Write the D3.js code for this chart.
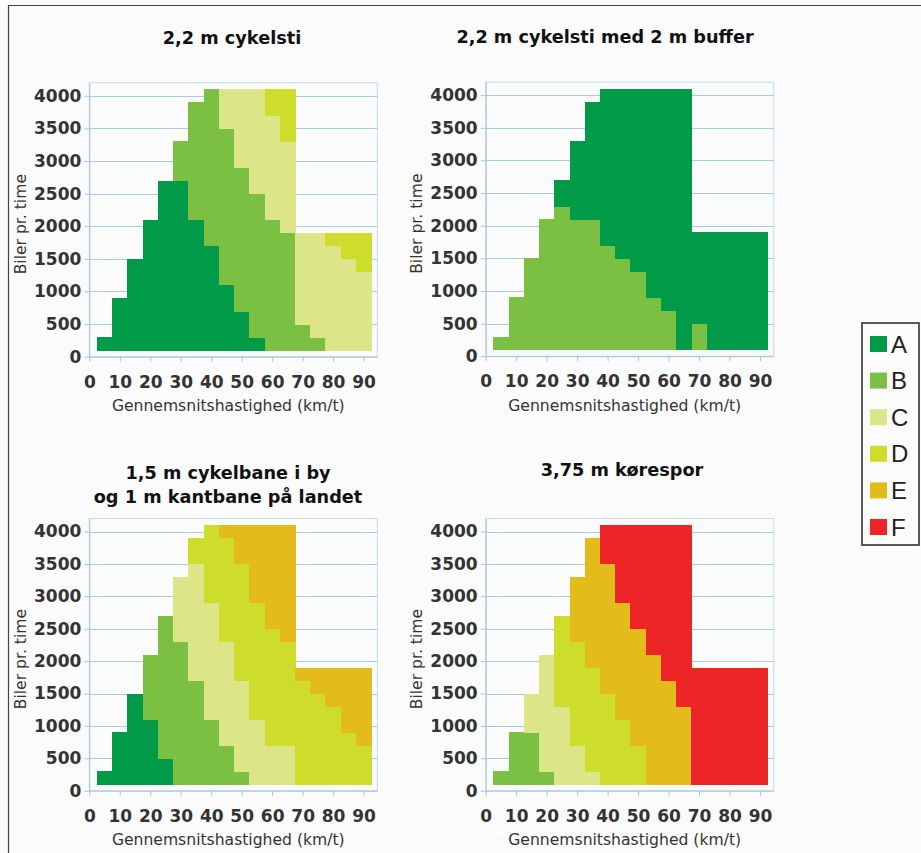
<!DOCTYPE html>
<html>
<head>
<meta charset="utf-8">
<script src="https://cdn.jsdelivr.net/npm/d3@7"></script>
<style>
  html, body { margin: 0; padding: 0; background: #fbfbfc; }
  svg { display: block; }
  .grid line { stroke: #a9cbe2; stroke-width: 1; }
  .axis path, .axis line { stroke: #a9c3d6; }
  .axis text { font-family: "DejaVu Sans", sans-serif; font-weight: bold; font-size: 17px; fill: #333; }
  .ttl { font-family: "DejaVu Sans", sans-serif; font-weight: bold; font-size: 17.7px; fill: #111; }
  .axttl { font-family: "DejaVu Sans", sans-serif; font-size: 15.6px; fill: #333; }
</style>
</head>
<body>
<svg id="chart" width="921" height="853"></svg>
<script>
// speed classes (km/t) and the highest volume shown in each column
const speeds   = [5, 10, 15, 20, 25, 30, 35, 40, 45, 50, 55, 60, 65, 70, 75, 80, 85, 90];
const capacity = [300, 900, 1500, 2100, 2700, 3300, 3900, 4100, 4100, 4100, 4100, 4100, 4100, 1900, 1900, 1900, 1900, 1900];
const baseVolume = 100;

const xTicks = [0, 10, 20, 30, 40, 50, 60, 70, 80, 90];
const yTicks = [0, 500, 1000, 1500, 2000, 2500, 3000, 3500, 4000];

const levels = ["A", "B", "C", "D", "E", "F"];
const levelColors = ["#009a48", "#7bbf43", "#dde589", "#cedd2c", "#e3bb1b", "#ec2526"];

// upper limit (biler pr. time) of each band, bottom to top
const cykelstiA = [300, 900, 1500, 2100, 2700, 2700, 2100, 1700, 1100, 700, 300, 100, 100, 100, 100, 100, 100, 100];
const cykelstiB = [300, 900, 1500, 2100, 2700, 3300, 3900, 4100, 3500, 2900, 2500, 2100, 1900, 500, 300, 100, 100, 100];
const cykelstiC = [300, 900, 1500, 2100, 2700, 3300, 3900, 4100, 4100, 4100, 4100, 3700, 3300, 1900, 1900, 1700, 1500, 1300];

const bufferB = [300, 900, 1500, 2100, 2300, 2100, 2100, 1700, 1500, 1300, 900, 700, 100, 500, 100, 100, 100, 100];

const cykelbaneA = [300, 900, 1500, 1100, 500, 100, 100, 100, 100, 100, 100, 100, 100, 100, 100, 100, 100, 100];
const cykelbaneB = [300, 900, 1500, 2100, 2700, 2300, 1700, 1100, 700, 300, 100, 100, 100, 100, 100, 100, 100, 100];
const cykelbaneC = [300, 900, 1500, 2100, 2700, 3300, 3500, 2900, 2300, 1700, 1100, 700, 700, 100, 100, 100, 100, 100];
const cykelbaneD = [300, 900, 1500, 2100, 2700, 3300, 3900, 4100, 3900, 3500, 2900, 2500, 2300, 1700, 1500, 1300, 900, 700];

const koresporB = [300, 900, 900, 300, 100, 100, 100, 100, 100, 100, 100, 100, 100, 100, 100, 100, 100, 100];
const koresporC = [300, 900, 1500, 2100, 1300, 700, 300, 100, 100, 100, 100, 100, 100, 100, 100, 100, 100, 100];
const koresporD = [300, 900, 1500, 2100, 2700, 2300, 1900, 1500, 1100, 700, 100, 100, 100, 100, 100, 100, 100, 100];
const koresporE = [300, 900, 1500, 2100, 2700, 3300, 3900, 3500, 2900, 2500, 2100, 1700, 1300, 100, 100, 100, 100, 100];

const panels = [
  { title: ["2,2 m cykelsti"], tx: 232, ty: 38, ox: 89.3, y0: 356.7, k: 0.06525,
    layers: [["A", cykelstiA], ["B", cykelstiB], ["C", cykelstiC], ["D", capacity]] },
  { title: ["2,2 m cykelsti med 2 m buffer"], tx: 605, ty: 37, ox: 485.7, y0: 356.2, k: 0.06525,
    layers: [["B", bufferB], ["A", capacity]] },
  { title: ["1,5 m cykelbane i by", "og 1 m kantbane på landet"], tx: 228, ty: 473, ox: 89.3, y0: 790.7, k: 0.0648,
    layers: [["A", cykelbaneA], ["B", cykelbaneB], ["C", cykelbaneC], ["D", cykelbaneD], ["E", capacity]] },
  { title: ["3,75 m kørespor"], tx: 622, ty: 470, ox: 485.7, y0: 790.7, k: 0.0648,
    layers: [["B", koresporB], ["C", koresporC], ["D", koresporD], ["E", koresporE], ["F", capacity]] }
];

const svg = d3.select("#chart");
const color = d3.scaleOrdinal().domain(levels).range(levelColors);

// frame
svg.append("line").attr("x1", 8).attr("x2", 921).attr("y1", 5.5).attr("y2", 5.5).attr("stroke", "#444").attr("stroke-width", 1.2);
svg.append("line").attr("x1", 8.5).attr("x2", 8.5).attr("y1", 5).attr("y2", 853).attr("stroke", "#444").attr("stroke-width", 1.2);

panels.forEach(p => {
  const plotW = 288;
  const x = d3.scaleLinear().domain([0, 94.5]).range([p.ox, p.ox + plotW]);
  const y = d3.scaleLinear().domain([0, 4200]).range([p.y0, p.y0 - 4200 * p.k]);
  const g = svg.append("g");

  // plot area border + gridlines
  g.append("rect")
    .attr("x", x(0)).attr("y", y(4200))
    .attr("width", x(94.5) - x(0)).attr("height", y(0) - y(4200))
    .attr("fill", "none").attr("stroke", "#c4dbea");
  g.append("g").attr("class", "grid")
    .selectAll("line").data(yTicks.slice(1)).join("line")
    .attr("x1", x(0)).attr("x2", x(94.5))
    .attr("y1", d => Math.round(y(d)) + 0.5).attr("y2", d => Math.round(y(d)) + 0.5);

  // bands
  p.layers.forEach(([lvl, tops], i) => {
    const below = i === 0 ? speeds.map(() => baseVolume) : p.layers[i - 1][1];
    const cells = speeds.map((s, j) => ({ s, lo: below[j], hi: tops[j] })).filter(c => c.hi > c.lo);
    g.append("g").attr("shape-rendering", "crispEdges")
      .selectAll("rect").data(cells).join("rect")
      .attr("x", d => x(d.s - 2.5))
      .attr("width", d => x(d.s + 2.5) - x(d.s - 2.5) + 0.5)
      .attr("y", d => y(d.hi))
      .attr("height", d => y(d.lo) - y(d.hi) + 0.5)
      .attr("fill", color(lvl));
  });

  // axes
  g.append("g").attr("class", "axis")
    .attr("transform", `translate(0,${y(0)})`)
    .call(d3.axisBottom(x).tickValues(xTicks).tickFormat(d3.format("d")).tickSize(5).tickPadding(14).tickSizeOuter(0));
  g.append("g").attr("class", "axis")
    .attr("transform", `translate(${x(0)},0)`)
    .call(d3.axisLeft(y).tickValues(yTicks).tickFormat(d3.format("d")).tickSize(5).tickPadding(3).tickSizeOuter(0));

  // titles
  const t = g.append("text").attr("class", "ttl").attr("text-anchor", "middle");
  p.title.forEach((line, i) => {
    t.append("tspan").attr("x", p.tx).attr("y", p.ty + i * 24).attr("dy", "0.36em").text(line);
  });
  g.append("text").attr("class", "axttl").attr("text-anchor", "middle")
    .attr("x", p.ox + 139).attr("y", y(0) + 49).attr("dy", "0.36em")
    .text("Gennemsnitshastighed (km/t)");
  g.append("text").attr("class", "axttl").attr("text-anchor", "middle")
    .attr("transform", `translate(${p.ox - 69},${y(2000) - 2}) rotate(-90)`)
    .attr("dy", "0.36em")
    .text("Biler pr. time");
});

// legend
const lg = svg.append("g");
lg.append("rect").attr("x", 862).attr("y", 323).attr("width", 57).attr("height", 222)
  .attr("fill", "none").attr("stroke", "#333").attr("stroke-width", 1.6);
const items = lg.selectAll("g.item").data(levels).join("g")
  .attr("transform", (d, i) => `translate(870,${344 + i * 36.6})`);
items.append("rect").attr("x", 0).attr("y", -8).attr("width", 17).attr("height", 16)
  .attr("fill", d => color(d));
items.append("text").attr("x", 21).attr("dy", "0.36em")
  .attr("font-family", "Liberation Sans, Arial, sans-serif").attr("font-size", 24).attr("fill", "#222")
  .text(d => d);
</script>
</body>
</html>
